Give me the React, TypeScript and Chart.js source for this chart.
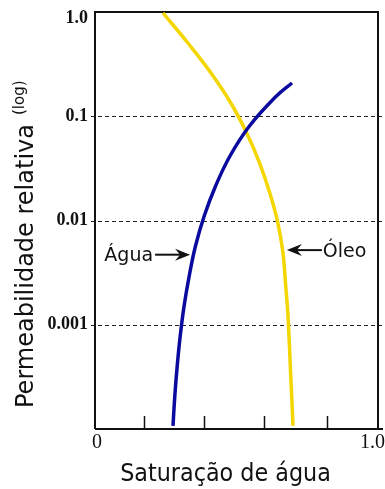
import React, { useEffect, useRef } from "react";
import { Chart, registerables } from "chart.js";

Chart.register(...registerables);

// Water (Água) relative permeability vs water saturation
const waterSat = [0.2756, 0.282, 0.2905, 0.3011, 0.3148, 0.3329, 0.3551, 0.3859, 0.4261, 0.477, 0.5459, 0.6413, 0.6961];
const waterKr = [0.000107, 0.000207, 0.000402, 0.00078, 0.001513, 0.002935, 0.00569, 0.01104, 0.02143, 0.04157, 0.0806, 0.1564, 0.2084];

// Oil (Óleo) relative permeability vs water saturation
const oilSat = [0.2403, 0.3283, 0.4099, 0.4799, 0.536, 0.5816, 0.6177, 0.6463, 0.6643, 0.6731, 0.6813, 0.6866, 0.6912, 0.6961, 0.6996];
const oilKr = [0.978, 0.504, 0.26, 0.134, 0.0691, 0.0356, 0.01836, 0.00946, 0.00488, 0.002515, 0.001297, 0.000668, 0.000345, 0.000178, 0.000107];

const yTickValues = [1, 0.1, 0.01, 0.001];
const yTickLabels = ["1.0", "0.1", "0.01", "0.001"];
const xTickValues = [0, 1];
const xTickLabels = ["0", "1.0"];
const xMinorTicks = [0.173, 0.385, 0.597, 0.82];

const annLabels = ["Água", "Óleo"];
const annX = [0.336, 0.678];
const annY = [0.0047, 0.0052];
const annSide = ["left", "right"];

const xTitle = "Saturação de água";
const yTitle = "Permeabilidade relativa";
const yTitleSuffix = "(log)";

const BLUE = "#0a0a9e";
const YELLOW = "#f4d600";

function drawArrowHead(ctx: CanvasRenderingContext2D, tx: number, ty: number, dir: number) {
  const len = 15;
  const half = 6;
  const notch = 10;
  ctx.beginPath();
  ctx.moveTo(tx, ty);
  ctx.lineTo(tx - dir * len, ty - half);
  ctx.lineTo(tx - dir * notch, ty);
  ctx.lineTo(tx - dir * len, ty + half);
  ctx.closePath();
  ctx.fill();
}

const decoPlugin = {
  id: "deco",
  beforeDatasetsDraw(chart: any) {
    const { ctx, chartArea: a, scales } = chart;
    const x = scales.x;
    const y = scales.y;
    ctx.save();
    ctx.strokeStyle = "#222";
    ctx.lineWidth = 1;
    ctx.setLineDash([4, 3]);
    yTickValues.forEach((v) => {
      if (v === 1) return;
      const py = Math.round(y.getPixelForValue(v)) + 0.5;
      ctx.beginPath();
      ctx.moveTo(a.left - 4, py);
      ctx.lineTo(a.right + 4, py);
      ctx.stroke();
    });
    ctx.setLineDash([]);
    ctx.strokeStyle = "#111";
    ctx.lineWidth = 2;
    ctx.beginPath();
    ctx.moveTo(a.left, a.bottom);
    ctx.lineTo(a.left, a.top);
    ctx.lineTo(a.right, a.top);
    ctx.lineTo(a.right, a.bottom);
    ctx.stroke();
    ctx.beginPath();
    ctx.moveTo(a.left, a.bottom);
    ctx.lineTo(a.right + 5, a.bottom);
    ctx.stroke();
    ctx.lineWidth = 1.5;
    xMinorTicks.forEach((v) => {
      const px = Math.round(x.getPixelForValue(v)) + 0.5;
      ctx.beginPath();
      ctx.moveTo(px, a.bottom);
      ctx.lineTo(px, a.bottom - 13);
      ctx.stroke();
    });
    ctx.fillStyle = "#111";
    ctx.font = "bold 18px 'Liberation Serif', serif";
    ctx.textAlign = "right";
    ctx.textBaseline = "middle";
    yTickValues.forEach((v, i) => {
      let py = y.getPixelForValue(v);
      py = Math.max(py, a.top + 6);
      ctx.fillText(yTickLabels[i], a.left - 7, py);
    });
    ctx.font = "20px 'Liberation Serif', serif";
    ctx.textAlign = "center";
    ctx.textBaseline = "alphabetic";
    xTickValues.forEach((v, i) => {
      const w = ctx.measureText(xTickLabels[i]).width;
      let px = x.getPixelForValue(v) + 2;
      px = Math.min(px, chart.width - w / 2);
      ctx.fillText(xTickLabels[i], px, a.bottom + 19);
    });
    ctx.save();
    ctx.font = "24.5px 'DejaVu Sans', sans-serif";
    ctx.textAlign = "center";
    ctx.translate((a.left + a.right) / 2 - 11, a.bottom + 52);
    ctx.scale(0.91, 1);
    ctx.fillText(xTitle, 0, 0);
    ctx.restore();
    ctx.save();
    ctx.translate(33, a.bottom - 21);
    ctx.rotate(-Math.PI / 2);
    ctx.font = "24px 'DejaVu Sans', sans-serif";
    ctx.textAlign = "left";
    ctx.textBaseline = "alphabetic";
    ctx.fillText(yTitle, 0, 0);
    const tw = ctx.measureText(yTitle).width;
    ctx.font = "15px 'DejaVu Sans', sans-serif";
    ctx.fillText(yTitleSuffix, tw + 9, -9);
    ctx.restore();
    ctx.restore();
  },
  afterDatasetsDraw(chart: any) {
    const { ctx, scales } = chart;
    const x = scales.x;
    const y = scales.y;
    ctx.save();
    ctx.fillStyle = "#111";
    ctx.strokeStyle = "#111";
    ctx.lineWidth = 2;
    ctx.font = "19px 'DejaVu Sans', sans-serif";
    ctx.textBaseline = "alphabetic";
    annLabels.forEach((label, i) => {
      const tx = x.getPixelForValue(annX[i]);
      const ty = y.getPixelForValue(annY[i]);
      const dir = annSide[i] === "left" ? 1 : -1;
      const tail = tx - dir * 35;
      ctx.beginPath();
      ctx.moveTo(tail, ty);
      ctx.lineTo(tx - dir * 10, ty);
      ctx.stroke();
      drawArrowHead(ctx, tx, ty, dir);
      if (dir === 1) {
        ctx.textAlign = "right";
        ctx.fillText(label, tail - 2, ty + 6);
      } else {
        ctx.textAlign = "left";
        ctx.fillText(label, tail + 1, ty + 7);
      }
    });
    ctx.restore();
  },
};

export default function App() {
  const ref = useRef<HTMLCanvasElement>(null);
  useEffect(() => {
    if (!ref.current) return;
    const chart = new Chart(ref.current, {
      type: "scatter",
      data: {
        datasets: [
          {
            label: "Água",
            data: waterSat.map((s, i) => ({ x: s, y: waterKr[i] })),
            showLine: true,
            borderColor: BLUE,
            borderWidth: 3.5,
            pointRadius: 0,
            tension: 0.4,
            borderCapStyle: "butt",
          },
          {
            label: "Óleo",
            data: oilSat.map((s, i) => ({ x: s, y: oilKr[i] })),
            showLine: true,
            borderColor: YELLOW,
            borderWidth: 3.5,
            pointRadius: 0,
            tension: 0.4,
            borderCapStyle: "butt",
          },
        ],
      },
      options: {
        responsive: false,
        animation: false,
        layout: { padding: { left: 95, top: 12, right: 7, bottom: 60 } },
        plugins: { legend: { display: false }, tooltip: { enabled: false } },
        scales: {
          x: { type: "linear", min: 0, max: 1, display: false },
          y: { type: "logarithmic", min: 0.0001, max: 1, display: false },
        },
      },
      plugins: [decoPlugin],
    });
    return () => chart.destroy();
  }, []);
  return (
    <div style={{ position: "fixed", left: 0, top: 0, width: 385, height: 489, background: "#fff" }}>
      <canvas ref={ref} width={385} height={489} style={{ display: "block", width: 385, height: 489 }} />
    </div>
  );
}
